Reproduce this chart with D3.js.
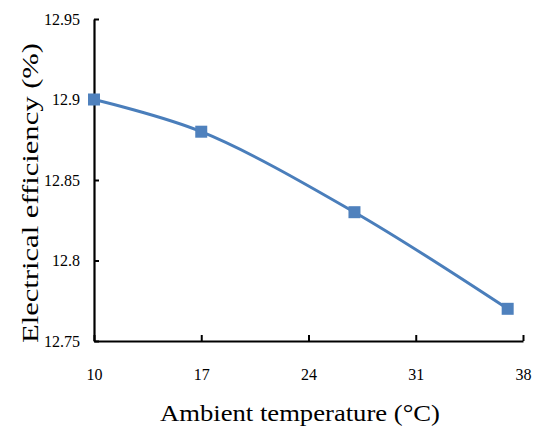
<!DOCTYPE html>
<html>
<head>
<meta charset="utf-8">
<script src="https://cdn.jsdelivr.net/npm/d3@7"></script>
</head>
<body style="margin:0">
<script>
(function () {
    "use strict";

    // data
    var temperatures = [10, 17, 27, 37];
    var efficiencies = [12.9, 12.88, 12.83, 12.77];
    var xTicks = [10, 17, 24, 31, 38];
    var yTicks = [12.75, 12.8, 12.85, 12.9, 12.95];

    var width = 537, height = 428;
    var margin = {top: 19, right: 14, bottom: 87, left: 94};
    var fontName = "'Liberation Serif'";

    var svg = d3.select("body").append("svg")
            .attr("width", width)
            .attr("height", height)
            .style("display", "block");

    var x = d3.scaleLinear().domain([10, 38]).range([margin.left, width - margin.right]);
    var y = d3.scaleLinear().domain([12.75, 12.95]).range([height - margin.bottom, margin.top]);

    // x axis: ticks point inward
    var xAxis = svg.append("g")
            .attr("transform", "translate(0," + y(12.75) + ")")
            .call(d3.axisBottom(x).tickValues(xTicks).tickSizeInner(-6).tickSizeOuter(0).tickPadding(28)
                .tickFormat(d3.format("d")));

    var yAxis = svg.append("g")
            .attr("transform", "translate(" + x(10) + ",0)")
            .call(d3.axisLeft(y).tickValues(yTicks).tickSizeInner(-5).tickSizeOuter(0).tickPadding(14)
                .tickFormat(function (d) { return String(+d.toFixed(2)); }));

    [xAxis, yAxis].forEach(function (g) {
        g.attr("font-family", null).attr("font-size", null);
        g.select(".domain").attr("stroke", "#000").attr("stroke-width", 2.2);
        g.selectAll(".tick line").attr("stroke", "#000").attr("stroke-width", 2);
        g.selectAll(".tick text")
                .style("font-family", fontName)
                .style("font-size", "16px")
                .attr("fill", "#000");
    });

    // series
    var points = temperatures.map(function (t, i) { return [t, efficiencies[i]]; });

    svg.append("path")
            .datum(points)
            .attr("fill", "none")
            .attr("stroke", "#4a7ebb")
            .attr("stroke-width", 3)
            .attr("d", d3.line()
                .x(function (d) { return x(d[0]); })
                .y(function (d) { return y(d[1]); })
                .curve(d3.curveCatmullRom.alpha(0.5)));

    var s = 12;
    svg.selectAll("rect.marker")
            .data(points)
            .enter().append("rect")
            .attr("class", "marker")
            .attr("x", function (d) { return x(d[0]) - s / 2; })
            .attr("y", function (d) { return y(d[1]) - s / 2; })
            .attr("width", s)
            .attr("height", s)
            .attr("fill", "#4f81bd");

    // axis titles
    svg.append("text")
            .attr("x", 300)
            .attr("y", 421)
            .attr("text-anchor", "middle")
            .style("font-family", fontName)
            .style("font-size", "24px")
            .attr("textLength", 280)
            .attr("lengthAdjust", "spacingAndGlyphs")
            .text("Ambient temperature (°C)");

    svg.append("text")
            .attr("transform", "translate(38,193) rotate(-90)")
            .attr("text-anchor", "middle")
            .style("font-family", fontName)
            .style("font-size", "24px")
            .attr("textLength", 300)
            .attr("lengthAdjust", "spacingAndGlyphs")
            .text("Electrical efficiency (%)");
})();
</script>
</body>
</html>
